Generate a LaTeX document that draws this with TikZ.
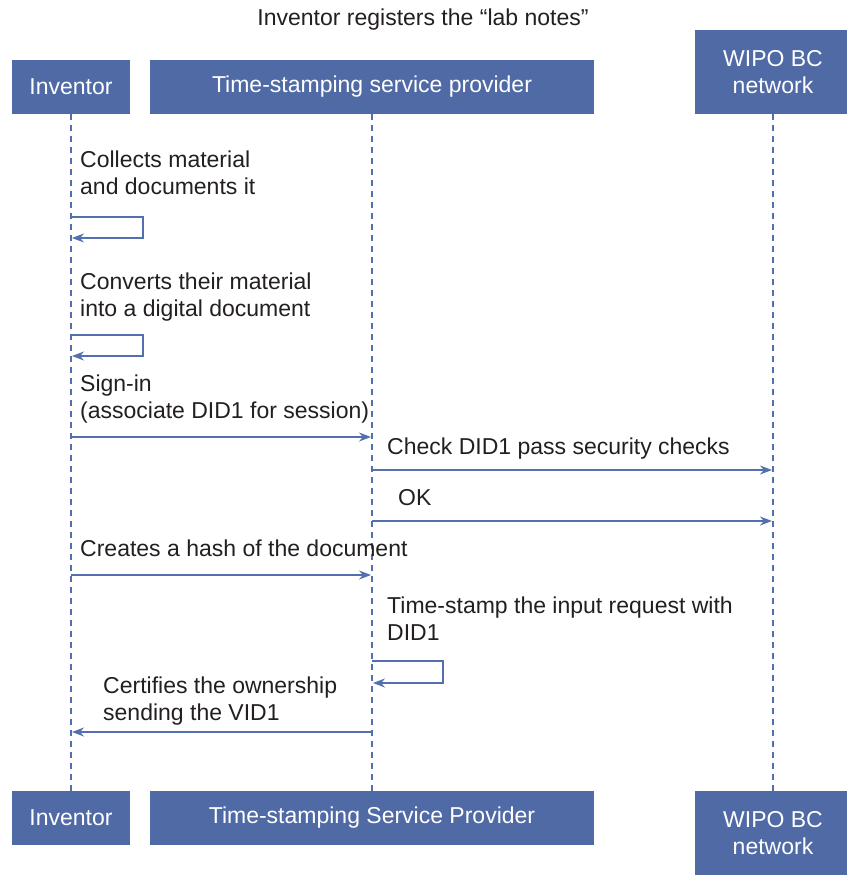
\documentclass[tikz,border=0pt]{standalone}
\usepackage{fontspec}
\setmainfont{Liberation Sans}
\usetikzlibrary{arrows.meta}
\definecolor{boxblue}{RGB}{80,106,166}
\definecolor{lineblue}{RGB}{84,111,173}
\definecolor{txtgray}{RGB}{35,31,32}

\begin{document}
\begin{tikzpicture}[x=1pt, y=-1pt,
  actor/.style={fill=boxblue, text=white, inner sep=0pt, align=center, font=\fontsize{23}{27}\selectfont},
  lifeline/.style={lineblue, line width=1.3pt, dash pattern=on 6pt off 5pt},
  msg/.style={lineblue, line width=1.3pt, -{Stealth[length=12pt,width=9pt]}, shorten >=1pt},
  lbl/.style={anchor=base west, inner sep=0pt, align=left, text=txtgray, font=\fontsize{23}{27}\selectfont}]

\useasboundingbox (0,0) rectangle (846,875);

\node[anchor=base, inner sep=0pt, text=txtgray, font=\fontsize{23}{27}\selectfont] (title) at (423,26) {Inventor registers the “lab notes”};

% actors, top
\node[actor, minimum width=118pt, minimum height=54pt] (inv) at (71,87) {Inventor};
\node[actor, minimum width=444pt, minimum height=54pt] (tsp) at (372,87) {Time-stamping service provider};
\node[actor, minimum width=156pt, minimum height=84pt] (wipo) at (773,72) {WIPO BC\\network};

% actors, bottom
\node[actor, minimum width=118pt, minimum height=54pt] (invb) at (71,818) {Inventor};
\node[actor, minimum width=444pt, minimum height=54pt] (tspb) at (372,818) {Time-stamping Service Provider};
\node[actor, minimum width=156pt, minimum height=84pt] (wipob) at (773,833) {WIPO BC\\network};

\draw[lifeline] (inv.south) -- (invb.north);
\draw[lifeline] (tsp.south) -- (tspb.north);
\draw[lifeline] (wipo.south) -- (wipob.north);

% messages (base = last line)
\node[lbl] (m1) at (80,194) {Collects material\\and documents it};
\draw[msg] (inv |- 0,217) -| (143,238) -- (inv |- 0,238);

\node[lbl] (m2) at (80,316) {Converts their material\\into a digital document};
\draw[msg] (inv |- 0,335) -| (143,356) -- (inv |- 0,356);

\node[lbl] (m3) at (80,418) {Sign-in\\(associate DID1 for session)};
\draw[msg] (inv |- 0,437) -- (tsp |- 0,437);

\node[lbl] (m4) at (387,454) {Check DID1 pass security checks};
\draw[msg] (tsp |- 0,470) -- (wipo |- 0,470);

\node[lbl] (m5) at (398,505) {OK};
\draw[msg] (tsp |- 0,521) -- (wipo |- 0,521);

\node[lbl] (m6) at (80,556) {Creates a hash of the document};
\draw[msg] (inv |- 0,575) -- (tsp |- 0,575);

\node[lbl] (m7) at (387,640) {Time-stamp the input request with\\DID1};
\draw[msg] (tsp |- 0,661) -| (443,683) -- (tsp |- 0,683);

\node[lbl] (m8) at (103,720) {Certifies the ownership\\sending the VID1};
\draw[msg] (tsp |- 0,732) -- (inv |- 0,732);

\end{tikzpicture}
\end{document}
